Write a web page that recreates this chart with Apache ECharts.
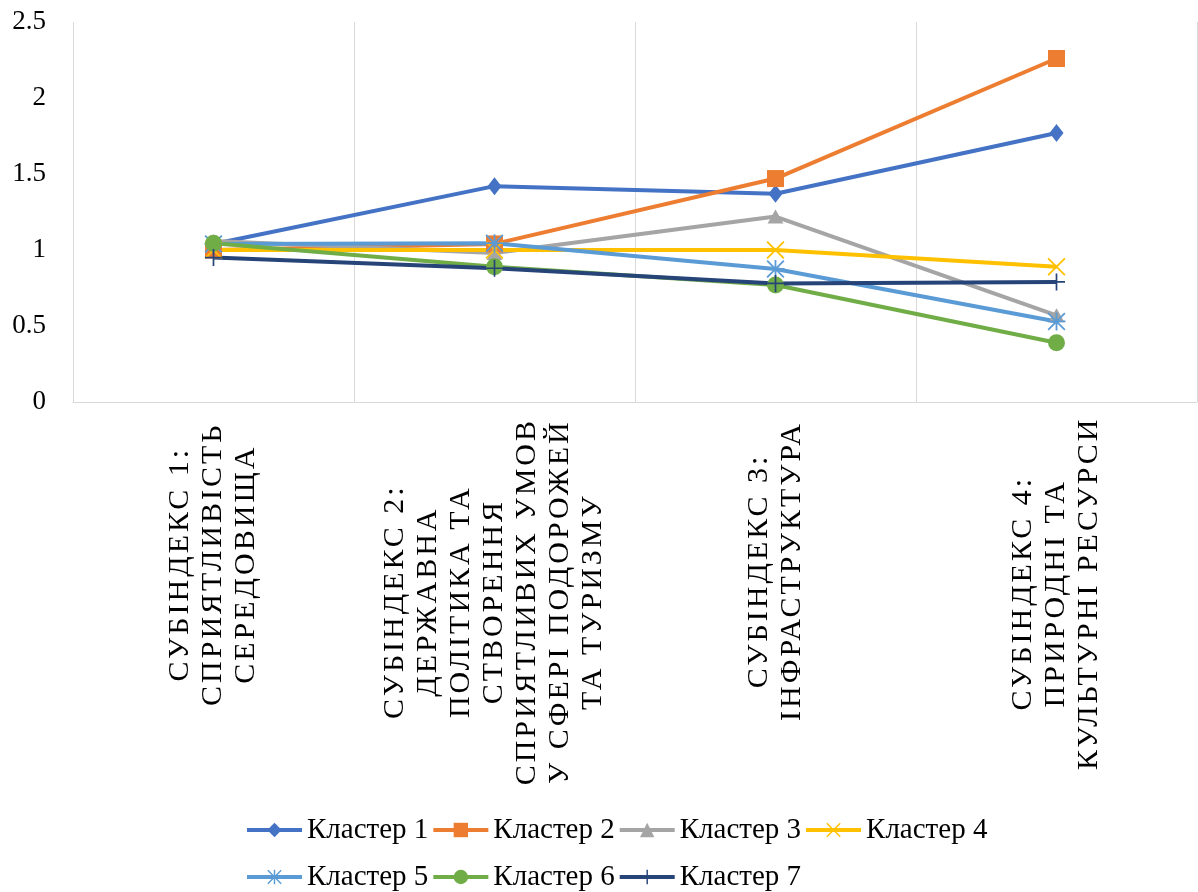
<!DOCTYPE html>
<html>
<head>
<meta charset="utf-8">
<script src="https://cdn.jsdelivr.net/npm/echarts@6/dist/echarts.min.js"></script>
<style>
html,body{margin:0;padding:0;background:#fff;}
#chart{width:1198px;height:892px;}
</style>
</head>
<body>
<div id="chart"></div>
<script>
const categories = [
  "СУБІНДЕКС 1:\nСПРИЯТЛИВІСТЬ\nСЕРЕДОВИЩА",
  "СУБІНДЕКС 2:\nДЕРЖАВНА\nПОЛІТИКА ТА\nСТВОРЕННЯ\nСПРИЯТЛИВИХ УМОВ\nУ СФЕРІ ПОДОРОЖЕЙ\nТА ТУРИЗМУ",
  "СУБІНДЕКС 3:\nІНФРАСТРУКТУРА",
  "СУБІНДЕКС 4:\nПРИРОДНІ ТА\nКУЛЬТУРНІ РЕСУРСИ"
];
const seriesNames = ["Кластер 1","Кластер 2","Кластер 3","Кластер 4","Кластер 5","Кластер 6","Кластер 7"];
const cluster1 = [1.04, 1.42, 1.37, 1.77];
const cluster2 = [1.00, 1.04, 1.47, 2.26];
const cluster3 = [1.06, 0.98, 1.22, 0.57];
const cluster4 = [1.00, 1.00, 1.00, 0.89];
const cluster5 = [1.04, 1.045, 0.875, 0.53];
const cluster6 = [1.045, 0.89, 0.77, 0.39];
const cluster7 = [0.95, 0.88, 0.78, 0.79];
const yTicks = [0, 0.5, 1, 1.5, 2, 2.5];

const colors = ["#4472C4","#ED7D31","#A5A5A5","#FFC000","#5B9BD5","#70AD47","#264478"];
const PLUS = 'path://M9,0 H11 V9 H20 V11 H11 V20 H9 V11 H0 V9 H9 Z';
const XMARK = 'path://M1.4,0 L10,8.6 L18.6,0 L20,1.4 L11.4,10 L20,18.6 L18.6,20 L10,11.4 L1.4,20 L0,18.6 L8.6,10 L0,1.4 Z';
const STAR = 'path://M1.4,0 L10,8.6 L18.6,0 L20,1.4 L11.4,10 L20,18.6 L18.6,20 L10,11.4 L1.4,20 L0,18.6 L8.6,10 L0,1.4 Z M9,0 H11 V9 H20 V11 H11 V20 H9 V11 H0 V9 H9 Z';
const symbols = [
  ['diamond',[14,18]],
  ['rect',[17,17]],
  ['triangle',[16,14]],
  [XMARK,[18,18]],
  [STAR,[18,18]],
  ['circle',[17,17]],
  [PLUS,[17,17]]
];
const allData = [cluster1,cluster2,cluster3,cluster4,cluster5,cluster6,cluster7];

const FONT = '"Liberation Serif", "Times New Roman", serif';

// Letter spacing only for the category label lines, as in the original chart.
(function () {
  const spaced = {};
  categories.forEach(function (c) { c.split('\n').forEach(function (l) { spaced[l] = true; }); });
  const proto = CanvasRenderingContext2D.prototype;
  const origFill = proto.fillText;
  proto.fillText = function (t, x, y, m) {
    if ('letterSpacing' in this) this.letterSpacing = spaced[t] ? '3px' : '0px';
    return m === undefined ? origFill.call(this, t, x, y) : origFill.call(this, t, x, y, m);
  };
})();

const legendCommon = {
  itemWidth: 55, itemHeight: 18, itemGap: 3,
  lineStyle: {width: 4},
  textStyle: {fontSize: 29, fontFamily: FONT, color: '#000', lineHeight: 30}
};

const chart = echarts.init(document.getElementById('chart'), null, {renderer:'canvas'});
chart.setOption({
  animation: false,
  backgroundColor: '#ffffff',
  color: colors,
  grid: {left: 73, right: 1, top: 22, bottom: 490},
  xAxis: {
    type: 'category',
    data: categories,
    boundaryGap: true,
    axisLine: {show: true, lineStyle: {color: '#d9d9d9', width: 1}},
    axisTick: {show: false},
    splitLine: {show: true, lineStyle: {color: '#d9d9d9', width: 1}},
    axisLabel: {
      interval: 0,
      rotate: 90,
      margin: 40,
      color: '#000',
      formatter: function (v) { return v.split('\n').map(function (l) { return '{c|' + l + '}'; }).join('\n'); },
      rich: {c: {align: 'center', fontSize: 30, fontFamily: FONT, lineHeight: 33, color: '#000'}}
    }
  },
  yAxis: {
    type: 'value',
    min: 0, max: 2.5, interval: 0.5,
    axisLine: {show: false},
    axisTick: {show: false},
    splitLine: {show: false},
    axisLabel: {
      margin: 27, color: '#000', fontSize: 27, fontFamily: FONT,
      formatter: function (v) { return String(v); }
    }
  },
  legend: [
    Object.assign({left: 240, top: 810, data: seriesNames.slice(0, 4)}, legendCommon),
    Object.assign({left: 240, top: 857, data: seriesNames.slice(4)}, legendCommon)
  ],
  series: seriesNames.map(function (name, i) {
    return {
      name: name,
      type: 'line',
      data: allData[i],
      symbol: symbols[i][0],
      symbolSize: symbols[i][1],
      symbolKeepAspect: true,
      showAllSymbol: true,
      lineStyle: {width: 4, color: colors[i]},
      itemStyle: {color: colors[i], borderWidth: 0},
      emphasis: {disabled: true}
    };
  })
});
</script>
</body>
</html>
